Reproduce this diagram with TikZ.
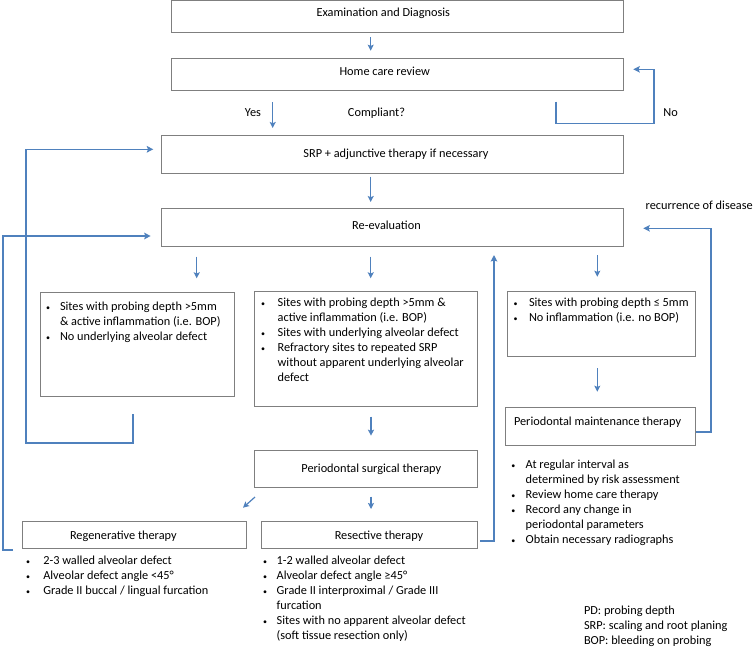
\documentclass[tikz,border=0pt]{standalone}
\usepackage{fontspec}
\setmainfont{Carlito}
\usetikzlibrary{calc,arrows.meta}
\definecolor{boxgray}{HTML}{7F7F7F}
\definecolor{arrblue}{HTML}{4F81BD}
\newlength\bgap
\newcommand{\mybul}{\llap{\makebox[2\bgap][c]{\fontsize{8}{8}\selectfont •}}}
\newcommand{\txt}{\fontsize{12.3}{15}\selectfont}
\begin{document}
\begin{tikzpicture}[x=1pt,y=-1pt,
  box/.style={draw=boxgray,line width=0.8pt,inner sep=0pt,outer sep=0pt,fill=white},
  lbl/.style={inner sep=0pt,outer sep=0pt,font=\txt,anchor=base},
  lst/.style={inner sep=0pt,outer sep=0pt,font=\txt,anchor=base west},
  arr/.style={draw=arrblue,line width=1.2pt,-{Stealth[length=6pt,width=6pt,inset=1.2pt]}},
  fb/.style={draw=arrblue,line width=1.6pt,-{Stealth[length=6.5pt,width=6.5pt,inset=1.2pt]}}]
\useasboundingbox (0,0) rectangle (753,646);
\fill[white] (0,0) rectangle (753,646);

% boxes
\node[box,minimum width=451.6pt,minimum height=31.8pt] (b1) at (397.5,16.4) {};
\node[box,minimum width=451.6pt,minimum height=32pt] (b2) at (397.5,74) {};
\node[box,minimum width=462pt,minimum height=38.3pt] (b3) at (392.3,154.15) {};
\node[box,minimum width=462pt,minimum height=37.5pt] (b4) at (392.3,227.25) {};
\node[box,minimum width=194.4pt,minimum height=104pt] (b5) at (137.5,344) {};
\node[box,minimum width=223pt,minimum height=114.6pt] (b6) at (365.8,349) {};
\node[box,minimum width=188.7pt,minimum height=64.6pt] (b7) at (601.35,324) {};
\node[box,minimum width=190.4pt,minimum height=37.7pt] (b8) at (600.5,426.15) {};
\node[box,minimum width=223pt,minimum height=37.7pt] (b9) at (365.8,468.85) {};
\node[box,minimum width=224.7pt,minimum height=27.7pt] (b10) at (134.35,534.85) {};
\node[box,minimum width=216.3pt,minimum height=27.2pt] (b11) at (369.15,535.1) {};

% titles
\node[lbl] (t1) at (383.3,16.5) {Examination and Diagnosis};
\node[lbl] (t2) at (384.7,75) {Home care review};
\node[lbl] (t3) at (396,157) {SRP + adjunctive therapy if necessary};
\node[lbl] (t4) at (386.5,229) {Re-evaluation};
\node[lbl] (t9) at (371.3,472) {Periodontal surgical therapy};
\node[lbl] (t10) at (123.3,539) {Regenerative therapy};
\node[lbl] (t11) at (379,539) {Resective therapy};
\node[lst] (t8) at (514,425) {Periodontal maintenance therapy};

% labels
\node[lbl] (yes) at (253,116) {Yes};
\node[lbl] (comp) at (376.5,116) {Compliant?};
\node[lbl] (no) at (670.7,116) {No};
\node[lst] (rec) at (645.7,209) {recurrence of disease};

% lists
\node[lst] (l5) at (60,310.7) {\setlength\bgap{12pt}\begin{tabular}[t]{@{}l@{}}
\mybul Sites with probing depth >5mm\\
\& active inflammation (i.e. BOP)\\
\mybul No underlying alveolar defect\end{tabular}};
\node[lst] (l6) at (277.7,306) {\setlength\bgap{14.5pt}\begin{tabular}[t]{@{}l@{}}
\mybul Sites with probing depth >5mm \&\\
active inflammation (i.e. BOP)\\
\mybul Sites with underlying alveolar defect\\
\mybul Refractory sites to repeated SRP\\
without apparent underlying alveolar\\
defect\end{tabular}};
\node[lst] (l7) at (529,306.7) {\setlength\bgap{13.3pt}\begin{tabular}[t]{@{}l@{}}
\mybul Sites with probing depth ≤ 5mm\\
\mybul No inflammation (i.e. no BOP)\end{tabular}};
\node[lst] (l8) at (525.7,468) {\setlength\bgap{12.4pt}\begin{tabular}[t]{@{}l@{}}
\mybul At regular interval as\\
determined by risk assessment\\
\mybul Review home care therapy\\
\mybul Record any change in\\
periodontal parameters\\
\mybul Obtain necessary radiographs\end{tabular}};
\node[lst] (l10) at (43.3,564.7) {\setlength\bgap{15.3pt}\begin{tabular}[t]{@{}l@{}}
\mybul 2-3 walled alveolar defect\\
\mybul Alveolar defect angle <45°\\
\mybul Grade II buccal / lingual furcation\end{tabular}};
\node[lst] (l11) at (276.7,564.7) {\setlength\bgap{11.7pt}\begin{tabular}[t]{@{}l@{}}
\mybul 1-2 walled alveolar defect\\
\mybul Alveolar defect angle ≥45°\\
\mybul Grade II interproximal / Grade III\\
furcation\\
\mybul Sites with no apparent alveolar defect\\
(soft tissue resection only)\end{tabular}};
\node[lst] (leg) at (584,614) {\begin{tabular}[t]{@{}l@{}}
PD: probing depth\\
SRP: scaling and root planing\\
BOP: bleeding on probing\end{tabular}};

% arrows
\draw[arr] ($(b1.south)+(-26.8,4.7)$) -- ($(b2.north)+(-26.8,-7.3)$);
\draw[arr] ($(b2.south)+(-124.8,12)$) -- ($(b3.north)+(-119.6,-7)$);
\coordinate (n1) at ($(b2.south east)+(-67.3,11.7)$);
\draw[fb] (n1) -- ++(0,21.6) -| ($(b2.east)+(30.7,-4.7)$) -- ($(b2.east)+(10,-4.7)$);
\draw[arr] ($(b3.south)+(-21.6,3.4)$) -- ($(b4.north)+(-21.6,-6.5)$);
\draw[fb] ($(b5.south)+(-4.8,18)$) -- ++(0,28.7) -| ($(b3.west)+(-135.3,-4.85)$) -- ($(b3.west)+(-8,-4.85)$);
\draw[fb] ($(b10.south west)+(-9,1.3)$) -- ($(b10.south west)+(-19.3,1.3)$) |- ($(b4.west)+(-10.6,8.75)$);
\draw[arr] ($(b4.south west)+(35.4,10.7)$) -- ($(b5.north)+(59.2,-13.7)$);
\draw[arr] ($(b4.south)+(-21.6,10.7)$) -- ($(b6.north)+(4.9,-13.4)$);
\draw[arr] ($(b4.south east)+(-26,9)$) -- ($(b7.north)+(-4.05,-15)$);
\draw[arr] ($(b6.south)+(5.2,10.4)$) -- ($(b9.north)+(5.2,-14.3)$);
\draw[arr] ($(b7.south)+(-4.05,12)$) -- ($(b8.north)+(-3.2,-15.6)$);
\draw[fb] ($(b11.east)+(2.7,5.9)$) -- ($(b11.east)+(16.7,5.9)$) -- ($(b4.south)+(101.7,9)$);
\draw[fb] ($(b8.east)+(0.5,5.55)$) -- ($(b8.east)+(15.3,5.55)$) |- ($(b4.east)+(20,1.05)$);
\draw[arr] ($(b9.south west)+(0.7,9.3)$) -- ($(b10.north east)+(-3.7,-13.3)$);
\draw[arr] ($(b9.south)+(5.2,9)$) -- ($(b11.north)+(1.85,-12.5)$);
\end{tikzpicture}
\end{document}
